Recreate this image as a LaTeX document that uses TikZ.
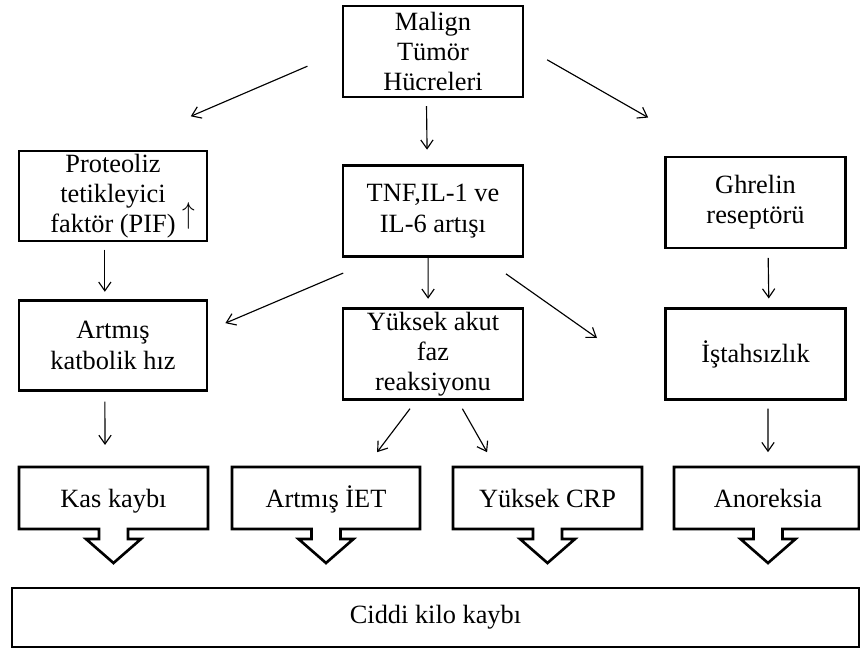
\documentclass[tikz,border=0pt]{standalone}
\usepackage{fontspec}
\setmainfont{Liberation Serif}
\usetikzlibrary{calc,arrows.meta}

\begin{document}
\begin{tikzpicture}[x=0.02cm,y=-0.02cm,
  box/.style={draw,line width=1.5pt,align=center,inner sep=0pt,minimum width=3.6cm,minimum height=1.82cm,font=\fontsize{15}{17.2}\selectfont},
  wbox/.style={box,minimum width=3.76cm,minimum height=1.8cm},
  lbl/.style={align=center,inner sep=0pt,minimum width=3.76cm,minimum height=1.24cm,text height=14pt,text depth=2.7pt,font=\fontsize{15}{17.2}\selectfont},
  outl/.style={line width=1.5pt,line join=miter},
  arr/.style={line width=0.65pt,-{Straight Barb[length=5pt,width=7pt]}}]
\useasboundingbox (0,0) rectangle (860,649);
\node[box] (malign) at (433,51.5) {Malign\\Tümör\\Hücreleri};
\node[wbox] (pif) at (113,196) {Proteoliz\\tetikleyici\\faktör (PIF)\rlap{\hspace{4pt}\smash{\raisebox{5pt}{\scalebox{1}[1.2]{$\uparrow$}}}}};
\node[box] (tnf) at (433,211) {TNF,IL-1 ve\\IL-6 artışı};
\node[box] (ghrelin) at (755.5,202.5) {Ghrelin\\reseptörü};
\node[wbox] (artmis) at (113,345.5) {Artmış\\katbolik hız};
\node[box] (akut) at (433,354) {Yüksek akut\\faz\\reaksiyonu};
\node[box] (istah) at (755.5,354) {İştahsızlık};
\foreach \nm/\l/\r/\c/\txt in {kas/19/208/113.5/Kas kaybı, iet/232/420/326/Artmış İET, crp/453/642/547.5/Yüksek CRP, anor/674/859/768/Anoreksia} {
 \draw[outl] (\l,467) -- (\r,467) -- (\r,529) -- (\c+14.5,529) -- (\c+14.5,539) -- (\c+27.5,539) -- (\c,563) -- (\c-27.5,539) -- (\c-14.5,539) -- (\c-14.5,529) -- (\l,529) -- cycle;
 \node[lbl] (\nm) at (\c,498) {\txt};
}
\node[box,minimum width=16.94cm,minimum height=1.18cm] (ciddi) at (435.5,617.5) {Ciddi kilo kaybı};
\draw[arr] ($(malign.west)!.15!(pif.north)$) -- ($(malign.west)!.66!(pif.north)$);
\draw[arr] ($(malign.262.5)!.12!(tnf.97.5)$) -- ($(malign.262.5)!.78!(tnf.97.5)$);
\draw[arr] ($(malign.3)!.12!(ghrelin.131)$) -- ($(malign.3)!.65!(ghrelin.131)$);
\draw[arr] ($(pif.260)!.13!(artmis.100)$) -- ($(pif.260)!.87!(artmis.100)$);
\draw[arr] ($(tnf.221)!.21!(artmis.9)$) -- ($(tnf.221)!.9!(artmis.9)$);
\draw[arr] (tnf.264) -- ($(tnf.264)!.83!(akut.96)$);
\coordinate (tnfout) at (597,338);
\draw[arr] ($(tnf.317.5)!.2!(tnfout)$) -- (tnfout);
\draw[arr] ($(ghrelin.285.5)!.15!(istah.74.5)$) -- ($(ghrelin.285.5)!.85!(istah.74.5)$);
\draw[arr] ($(artmis.260)!.13!(kas.105)$) -- ($(artmis.260)!.71!(kas.105)$);
\draw[arr] ($(akut.250.4)!.12!(iet.38)$) -- ($(akut.250.4)!.78!(iet.38)$);
\draw[arr] ($(akut.298.7)!.12!(crp.149.3)$) -- ($(akut.298.7)!.78!(crp.149.3)$);
\draw[arr] ($(istah.285.5)!.12!(anor.north)$) -- ($(istah.285.5)!.78!(anor.north)$);
\end{tikzpicture}
\end{document}
